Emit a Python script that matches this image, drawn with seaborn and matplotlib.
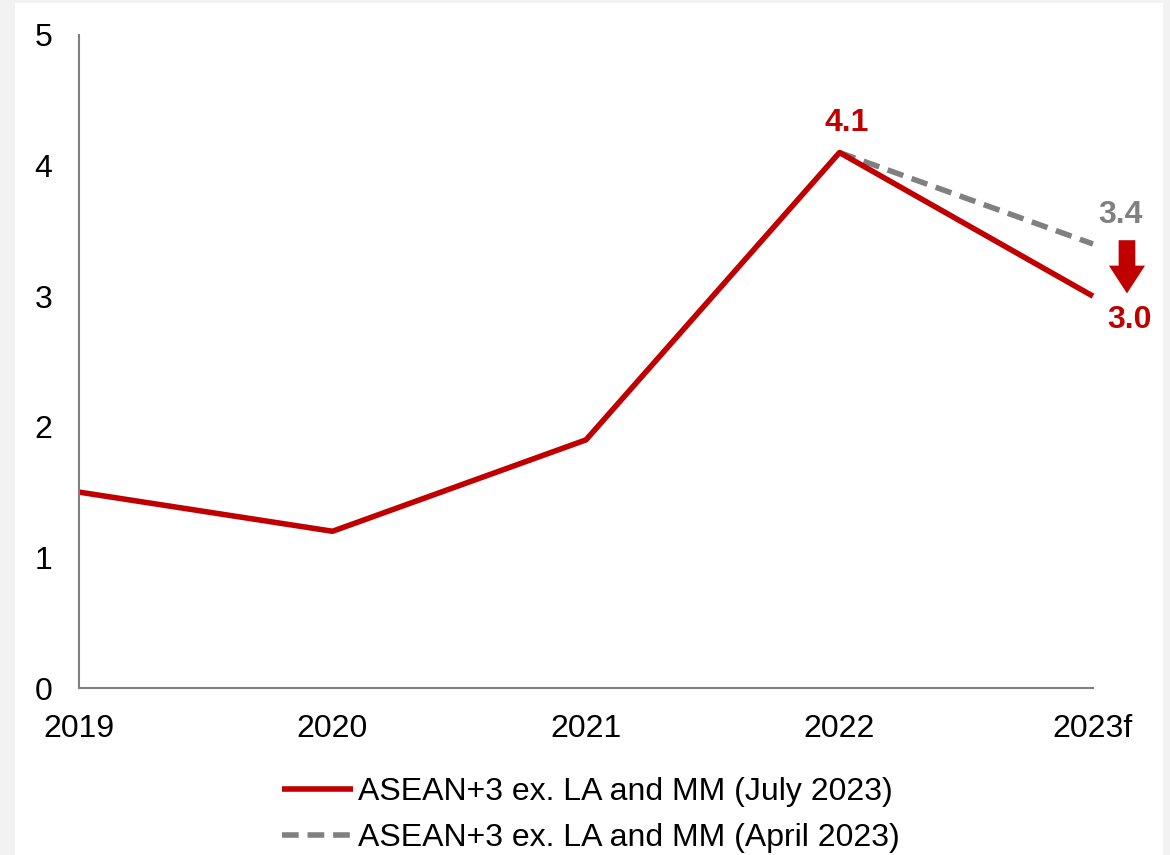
import pandas as pd
import matplotlib.pyplot as plt
import seaborn as sns
from matplotlib.patches import Rectangle

# Data
years = ['2019', '2020', '2021', '2022', '2023f']
july_2023 = [1.5, 1.2, 1.9, 4.1, 3.0]
april_years = ['2022', '2023f']
april_2023 = [4.1, 3.4]

red = '#c00000'
grey = '#808080'

df = pd.DataFrame({'x': range(len(years)), 'value': july_2023})
df_apr = pd.DataFrame({'x': [years.index(y) for y in april_years], 'value': april_2023})

sns.set_style('white')
plt.rcParams['font.family'] = ['Liberation Sans', 'DejaVu Sans']
plt.rcParams['text.color'] = 'black'
plt.rcParams['xtick.color'] = 'black'
plt.rcParams['ytick.color'] = 'black'

fig = plt.figure(figsize=(11.7, 8.55), dpi=100)
fig.patch.set_facecolor('#f2f2f2')
fig.add_artist(Rectangle((15 / 1170, 0), 1148 / 1170, 852 / 855,
                         transform=fig.transFigure, facecolor='white',
                         edgecolor='none', zorder=0))

ax = fig.add_axes([79 / 1170, 1 - 688 / 855, 1014 / 1170, 653 / 855])
ax.set_facecolor('none')

sns.lineplot(data=df_apr, x='x', y='value', ax=ax, color=grey, lw=4,
             linestyle=(0, (3, 1.6)), label='ASEAN+3 ex. LA and MM (April 2023)')
sns.lineplot(data=df, x='x', y='value', ax=ax, color=red, lw=4,
             label='ASEAN+3 ex. LA and MM (July 2023)')
for ln in ax.lines:
    ln.set_clip_on(False)
    ln.set_solid_capstyle('butt')

ax.set_xlim(0, 4)
ax.set_ylim(0, 5)
ax.set_xticks(range(len(years)))
ax.set_xticklabels(years)
ax.set_yticks(range(6))
ax.tick_params(axis='both', length=0, labelsize=23)
ax.tick_params(axis='y', pad=19)
ax.tick_params(axis='x', pad=19)
ax.set_xlabel('')
ax.set_ylabel('')

for side in ['top', 'right']:
    ax.spines[side].set_visible(False)
for side in ['left', 'bottom']:
    ax.spines[side].set_color('#808080')
    ax.spines[side].set_linewidth(1.5)

# Value labels
ax.text(3.03, 4.33, '4.1', color=red, fontsize=23, fontweight='bold',
        ha='center', va='center')
ax.text(4.107, 3.62, '3.4', color=grey, fontsize=23, fontweight='bold',
        ha='center', va='center', clip_on=False)
ax.text(4.146, 2.82, '3.0', color=red, fontsize=23, fontweight='bold',
        ha='center', va='center', clip_on=False)

# Downward arrow
ax.annotate('', xy=(4.134, 3.0), xytext=(4.134, 3.45),
            arrowprops=dict(arrowstyle='simple,head_width=1.3,head_length=1.0,tail_width=0.6',
                            color=red, lw=0, mutation_scale=20),
            annotation_clip=False)

# Legend (July first)
handles, labels = ax.get_legend_handles_labels()
ax.legend(handles[::-1], labels[::-1], loc='upper center',
          bbox_to_anchor=(0.505, 0.125), bbox_transform=fig.transFigure,
          frameon=False, fontsize=23, handlelength=2.2, handletextpad=0.15,
          labelspacing=0.5)

plt.savefig('out.png', dpi=100, facecolor=fig.get_facecolor())
